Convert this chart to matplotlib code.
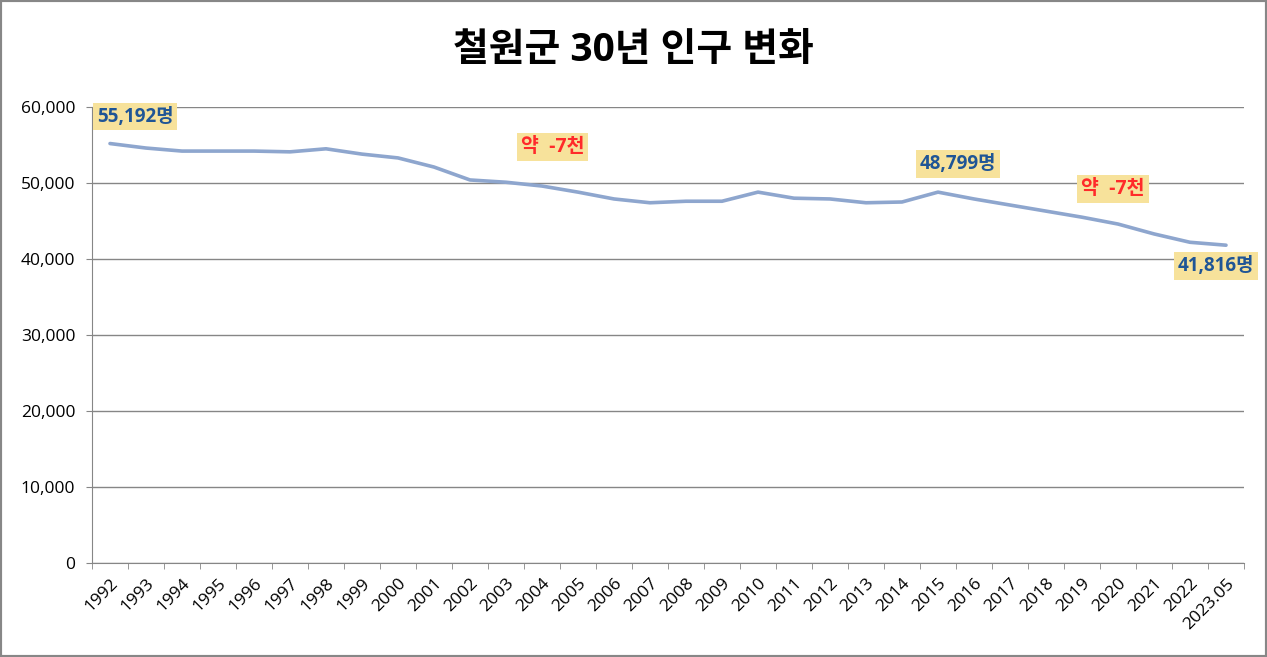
import matplotlib
matplotlib.use('Agg')
from matplotlib import pyplot as plt
from matplotlib.patches import Rectangle

plt.rcParams['font.family'] = ['Open Sans', 'Noto Sans CJK KR', 'DejaVu Sans']

# 연도 / 인구
years = ['1992', '1993', '1994', '1995', '1996', '1997', '1998', '1999', '2000',
         '2001', '2002', '2003', '2004', '2005', '2006', '2007', '2008', '2009',
         '2010', '2011', '2012', '2013', '2014', '2015', '2016', '2017', '2018',
         '2019', '2020', '2021', '2022', '2023.05']
population = [55192, 54600, 54200, 54200, 54200, 54100, 54500, 53800, 53300,
              52100, 50400, 50100, 49600, 48800, 47900, 47400, 47600, 47600,
              48800, 48000, 47900, 47400, 47500, 48799, 47900, 47100, 46300,
              45500, 44600, 43300, 42200, 41816]

# 강조할 점 (인덱스)
marked = [0, 23, 31]
mark_offsets = [(25, 27), (20, 28), (-10, -21)]  # pixels
diff_labels = ['약  -7천', '약  -7천']
diff_pos = [(12.3, 54740), (27.86, 49210)]

fig = plt.figure(figsize=(12.67, 6.57), dpi=100)
ax = fig.add_axes([92 / 1267, 1 - 563 / 657, (1244 - 92) / 1267, (563 - 107) / 657])

x = list(range(len(years)))
ax.plot(x, population, color='#8ea6ce', linewidth=2.6, solid_capstyle='round', zorder=3)

ax.set_xlim(-0.5, len(years) - 0.5)
ax.set_ylim(0, 60000)
ax.set_yticks(range(0, 60001, 10000))
ax.set_yticklabels(['{:,}'.format(v) for v in range(0, 60001, 10000)], fontsize=12.5)
ax.yaxis.grid(True, color='#868686', linewidth=1)
ax.set_axisbelow(True)

ax.set_xticks(x)
ax.set_xticklabels(years, rotation=45, ha='right', rotation_mode='anchor', fontsize=12.5)
ax.set_xticks([i - 0.5 for i in range(len(years) + 1)], minor=True)
ax.tick_params(axis='x', which='major', length=0, pad=9)
ax.tick_params(axis='x', which='minor', length=4, color='#868686')
ax.tick_params(axis='y', length=4, color='#868686', pad=8)

for s in ['top', 'right']:
    ax.spines[s].set_visible(False)
for s in ['left', 'bottom']:
    ax.spines[s].set_color('#868686')

box = dict(boxstyle='square,pad=0.2', facecolor='#f7e29b', edgecolor='none')
for i, off in zip(marked, mark_offsets):
    ax.annotate('{:,}명'.format(population[i]), xy=(x[i], population[i]),
                xytext=off, textcoords='offset pixels', ha='center', va='center',
                fontsize=13.5, fontweight='bold', color='#1f5596', bbox=box, zorder=4)

for lab, (px, py) in zip(diff_labels, diff_pos):
    ax.text(px, py, lab, ha='center', va='center', fontsize=14, fontweight='bold',
            color='#ff2a2a', bbox=box, zorder=4)

fig.text(0.5, 1 - 50 / 657, '철원군 30년 인구 변화', ha='center', va='center',
         fontsize=28, fontweight='bold')

fig.add_artist(Rectangle((0, 0), 1, 1, transform=fig.transFigure, fill=False,
                         edgecolor='#878787', linewidth=3))

fig.savefig('out.png', dpi=100)
